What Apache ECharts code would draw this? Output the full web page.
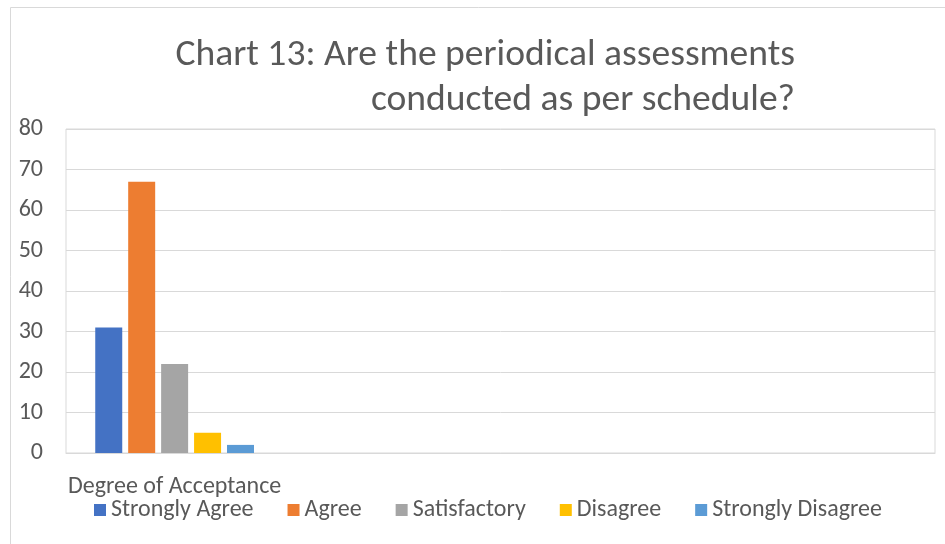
<!DOCTYPE html>
<html><head><meta charset="utf-8">
<script src="https://cdn.jsdelivr.net/npm/echarts@6/dist/echarts.min.js"></script>
<style>html,body{margin:0;padding:0;background:#fff}#c{width:945px;height:544px}</style>
</head><body><div id="c"></div>
<script>
const categories = ['Degree of Acceptance', '', '', ''];
const seriesNames = ['Strongly Agree', 'Agree', 'Satisfactory', 'Disagree', 'Strongly Disagree'];
const stronglyAgree = [31];
const agree = [67];
const satisfactory = [22];
const disagree = [5];
const stronglyDisagree = [2];
const yTicks = [0, 10, 20, 30, 40, 50, 60, 70, 80];
const colors = ['#4472C4', '#ED7D31', '#A5A5A5', '#FFC000', '#5B9BD5'];
const values = [stronglyAgree, agree, satisfactory, disagree, stronglyDisagree];
const FONT = 'Carlito, Lato, sans-serif';
const chart = echarts.init(document.getElementById('c'));
chart.setOption({
  animation: false,
  color: colors,
  graphic: [{type: 'rect', shape: {x: 10.5, y: 7.5, width: 960, height: 560}, style: {fill: 'none', stroke: '#D9D9D9', lineWidth: 1}, silent: true}],
  title: {
    text: 'Chart 13: Are the periodical assessments\nconducted as per schedule?',
    left: 790, top: 28, textAlign: 'right',
    textStyle: {fontFamily: FONT, fontSize: 37.6, fontWeight: 'normal', color: '#595959', lineHeight: 45}
  },
  legend: {
    left: 89, top: 493, itemWidth: 12, itemHeight: 12, itemGap: 34, icon: 'rect',
    textStyle: {fontFamily: FONT, fontSize: 24, color: '#595959'},
    data: seriesNames
  },
  grid: {left: 66, right: 10, top: 129, bottom: 91, show: true, borderColor: '#D9D9D9', borderWidth: 1},
  xAxis: {
    type: 'category', data: categories,
    axisLine: {lineStyle: {color: '#D9D9D9', width: 1}}, axisTick: {show: false},
    axisLabel: {fontFamily: FONT, fontSize: 24, color: '#595959', margin: 22, interval: 0}
  },
  yAxis: {
    type: 'value', min: yTicks[0], max: yTicks[yTicks.length - 1], interval: 10,
    axisLine: {show: false}, axisTick: {show: false},
    axisLabel: {fontFamily: FONT, fontSize: 24, color: '#595959', margin: 23},
    splitLine: {lineStyle: {color: '#D9D9D9', width: 1}}
  },
  series: seriesNames.map((n, i) => ({
    name: n, type: 'bar', data: values[i], barWidth: 27, barGap: '22%',
    itemStyle: {color: colors[i]}
  }))
});
</script></body></html>
